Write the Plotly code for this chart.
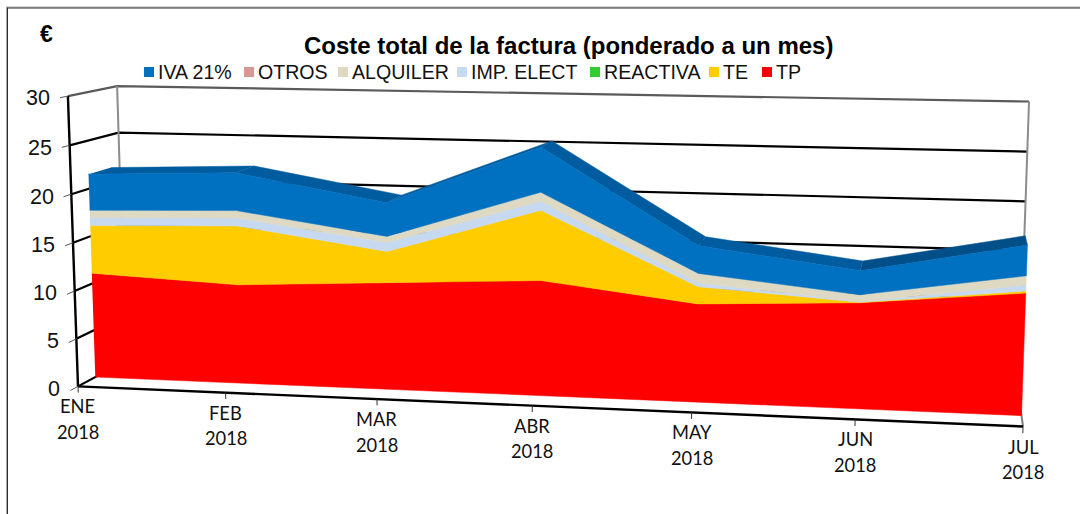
import numpy as np
import plotly.graph_objects as go

months = ["ENE", "FEB", "MAR", "ABR", "MAY", "JUN", "JUL"]
year_labels = ["2018"] * 7
tp = [11.10, 10.38, 11.12, 11.85, 10.00, 10.66, 12.15]
te = [5.02, 6.15, 3.22, 7.14, 1.74, 0.05, 0.20]
reactiva = [0.0, 0.0, 0.0, 0.0, 0.0, 0.0, 0.0]
imp_elect = [0.84, 0.83, 0.93, 0.91, 0.40, 0.06, 0.59]
alquiler = [0.77, 0.76, 0.62, 0.91, 0.94, 0.69, 0.91]
otros = [0.0, 0.0, 0.0, 0.0, 0.0, 0.0, 0.0]
iva = [3.77, 3.90, 3.44, 4.51, 2.77, 2.38, 3.00]
y_ticks = [0, 5, 10, 15, 20, 25, 30]

stack = [("TP", tp, "#FF0000"), ("TE", te, "#FFCC00"), ("REACTIVA", reactiva, "#33CC33"),
         ("IMP. ELECT", imp_elect, "#C6D9F1"), ("ALQUILER", alquiler, "#DDD9C3"),
         ("OTROS", otros, "#D99694"), ("IVA 21%", iva, "#0070C0")]
legend_order = ["IVA 21%", "OTROS", "ALQUILER", "IMP. ELECT", "REACTIVA", "TE", "TP"]
legend_sq_x = [149, 249, 343, 462, 595, 714, 767]

# 3D view calibration: (month index, value, depth) -> page position
calib = [((0, 0, 0), (78, 386)), ((6, 0, 0), (1023, 426)), ((0, 30, 0), (67, 97)),
         ((0, 30, 1), (118, 86)), ((6, 30, 1), (1029, 101)), ((6, 0, 1), (1018.6, 398)),
         ((0, 0, 1), (125, 360)), ((6, 30, 0), (1034, 113)), ((1, 0, 0), (226, 393)),
         ((5, 0, 0), (855, 419)), ((3, 0, 0), (533, 406))]
A, b = [], []
for (u, v, w), (px, py) in calib:
    A.append([u, v, w, 1, 0, 0, 0, 0, -px * u, -px * v, -px * w]); b.append(px)
    A.append([0, 0, 0, 0, u, v, w, 1, -py * u, -py * v, -py * w]); b.append(py)
H = np.linalg.lstsq(np.array(A, float), np.array(b, float), rcond=None)[0]


def project(i, v, d):
    den = H[8] * i + H[9] * v + H[10] * d + 1
    return ((H[0] * i + H[1] * v + H[2] * d + H[3]) / den,
            (H[4] * i + H[5] * v + H[6] * d + H[7]) / den)


D0, D1 = 0.35, 0.82
fig = go.Figure()


def poly(points, color, width=0, line_color=None, fill=True):
    xs, ys = zip(*[project(*p) for p in points])
    fig.add_trace(go.Scatter(
        x=list(xs), y=list(ys), mode="lines", hoverinfo="skip", showlegend=False,
        fill="toself" if fill else None, fillcolor=color if fill else None,
        line=dict(color=line_color or color, width=width)))


GRID = "#000000"
for t in y_ticks:
    if t == 0:
        continue
    c = "#5a5a5a" if t == 30 else GRID
    poly([(0, t, 0), (0, t, 1), (6, t, 1)], c, 2.2, c, fill=False)
poly([(0, 0, 0), (0, 0, 1)], GRID, 2.2, GRID, fill=False)
poly([(6, 0, 0), (6, 0, 1)], "#808080", 2, "#808080", fill=False)
poly([(0, 0, 1), (0, 30, 1)], "#8c8c8c", 2, "#8c8c8c", fill=False)
poly([(6, 0, 1), (6, 30, 1)], "#8c8c8c", 2, "#8c8c8c", fill=False)

cum = np.zeros(len(months))
n = len(months)
layers = []
for name, vals, col in stack:
    lo = cum.copy()
    cum = cum + np.array(vals)
    layers.append((name, lo, cum.copy(), col))

# roof of the stack
for i in range(n - 1):
    shade = "#004F88" if i == n - 2 else "#005C9E"
    poly([(i, cum[i], D0), (i + 1, cum[i + 1], D0), (i + 1, cum[i + 1], D1), (i, cum[i], D1)],
         shade, 0.5, shade)

# front faces
for name, lo, hi, col in layers:
    if np.allclose(lo, hi):
        continue
    pts = [(i, hi[i], D0) for i in range(n)] + [(i, lo[i], D0) for i in reversed(range(n))]
    poly(pts, col, 0.5, col)

# axes
poly([(0, 0, 0), (0, 30, 0)], "#000000", 2.4, "#000000", fill=False)
poly([(i, 0, 0) for i in range(n)], "#000000", 2.4, "#000000", fill=False)
for t in y_ticks:
    poly([(0, t, -0.15), (0, t, 0)], "#555555", 1, "#555555", fill=False)
for i in range(n):
    poly([(i, 0, 0), (i, -0.65, 0)], "#333333", 1, "#333333", fill=False)

ann = []
for t in y_ticks:
    x, y = project(0, t, -0.15)
    ann.append(dict(x=x - 8, y=y + 0.5 - (30 - t) / 15, text=str(t), xanchor="right", yanchor="middle", showarrow=False,
                    font=dict(family="Liberation Sans", size=21.5, color="#111111")))
for i, (m, yr) in enumerate(zip(months, year_labels)):
    x, y = project(i, 0, 0)
    ann.append(dict(x=x, y=y + 20, text=m, xanchor="center", yanchor="middle", showarrow=False,
                    font=dict(family="Lato", size=18.3, color="#111111")))
    ann.append(dict(x=x, y=y + 45.5, text=yr, xanchor="center", yanchor="middle", showarrow=False,
                    font=dict(family="Lato", size=18.3, color="#111111")))
ann.append(dict(x=568, y=45, text="<b>Coste total de la factura (ponderado a un mes)</b>", showarrow=False,
                xanchor="center", yanchor="middle", font=dict(family="Liberation Sans", size=24, color="#000000")))
ann.append(dict(x=46, y=34, text="<b>€</b>", showarrow=False, xanchor="center", yanchor="middle",
                font=dict(family="Liberation Sans", size=23, color="#000000")))

colors = {name: col for name, _, col in stack}
for name, sx in zip(legend_order, legend_sq_x):
    fig.add_trace(go.Scatter(x=[sx], y=[72], mode="markers", hoverinfo="skip", showlegend=False,
                             marker=dict(symbol="square", size=10, color=colors[name])))
    ann.append(dict(x=sx + 7, y=72, text=name, showarrow=False, xanchor="left", yanchor="middle",
                    font=dict(family="Liberation Sans", size=19.6, color="#111111")))

border = []
for off, col in ((6.5, "#aaaaaa"), (7.5, "#2a2a2a")):
    border.append(dict(type="line", xref="x", yref="y", x0=off, x1=off, y0=off, y1=514, line=dict(color=col, width=1)))
    border.append(dict(type="line", xref="x", yref="y", x0=off, x1=1080, y0=off + 0.5, y1=off + 0.5, line=dict(color=col, width=1)))

fig.update_layout(
    width=1080, height=514, margin=dict(l=0, r=0, t=0, b=0),
    paper_bgcolor="white", plot_bgcolor="white", showlegend=False, annotations=ann,
    xaxis=dict(range=[0, 1080], visible=False, fixedrange=True),
    yaxis=dict(range=[514, 0], visible=False, fixedrange=True),
    shapes=border,
)
fig.write_html("out.html", config={"displayModeBar": False},
               post_script="document.body.style.margin='0';document.documentElement.style.overflow='hidden';")
